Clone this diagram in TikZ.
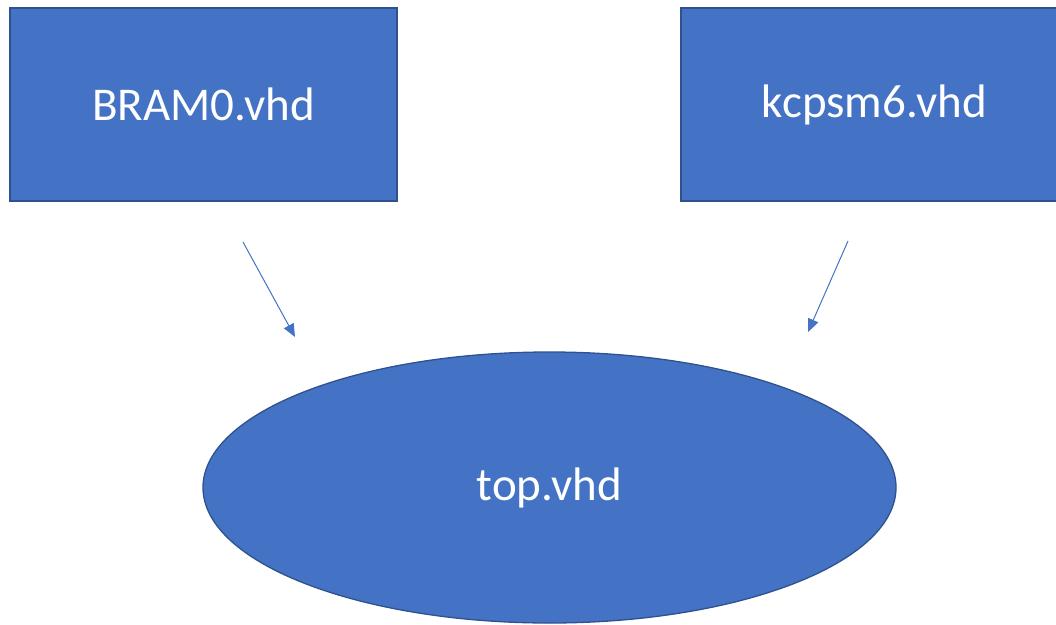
\documentclass[tikz,border=0pt]{standalone}
\usepackage{fontspec}
\setmainfont{Carlito}
\usetikzlibrary{shapes.geometric,arrows.meta}
\definecolor{boxfill}{HTML}{4472C4}
\definecolor{boxline}{HTML}{2F528F}
\tikzset{
  file/.style={draw=boxline, line width=1.3pt, fill=boxfill, text=white,
    font=\fontsize{47}{54}\selectfont, inner sep=0pt},
  filebox/.style={file, rectangle, minimum width=387pt, minimum height=193pt},
  topfile/.style={file, ellipse, minimum width=693pt, minimum height=271pt},
  link/.style={draw=boxfill, line width=1pt,
    -{Triangle[length=13pt, width=11pt]}}
}
\begin{document}
\begin{tikzpicture}[x=1pt, y=-1pt]
  \useasboundingbox (0,0) rectangle (1056,624);
  \clip (0,0) rectangle (1056,624);
  \node[filebox] (bram) at (203.5,104.5) {BRAM0.vhd};
  \node[filebox] (kcpsm) at (874.5,104.5) {kcpsm6.vhd};
  \node[topfile] (top) at (549.5,487.5) {top.vhd};
  \coordinate (a1) at (243,242);
  \coordinate (a2) at (295,337);
  \coordinate (b1) at (848,241);
  \coordinate (b2) at (808,332);
  \draw[link] (a1) -- (a2);
  \draw[link] (b1) -- (b2);
\end{tikzpicture}
\end{document}
